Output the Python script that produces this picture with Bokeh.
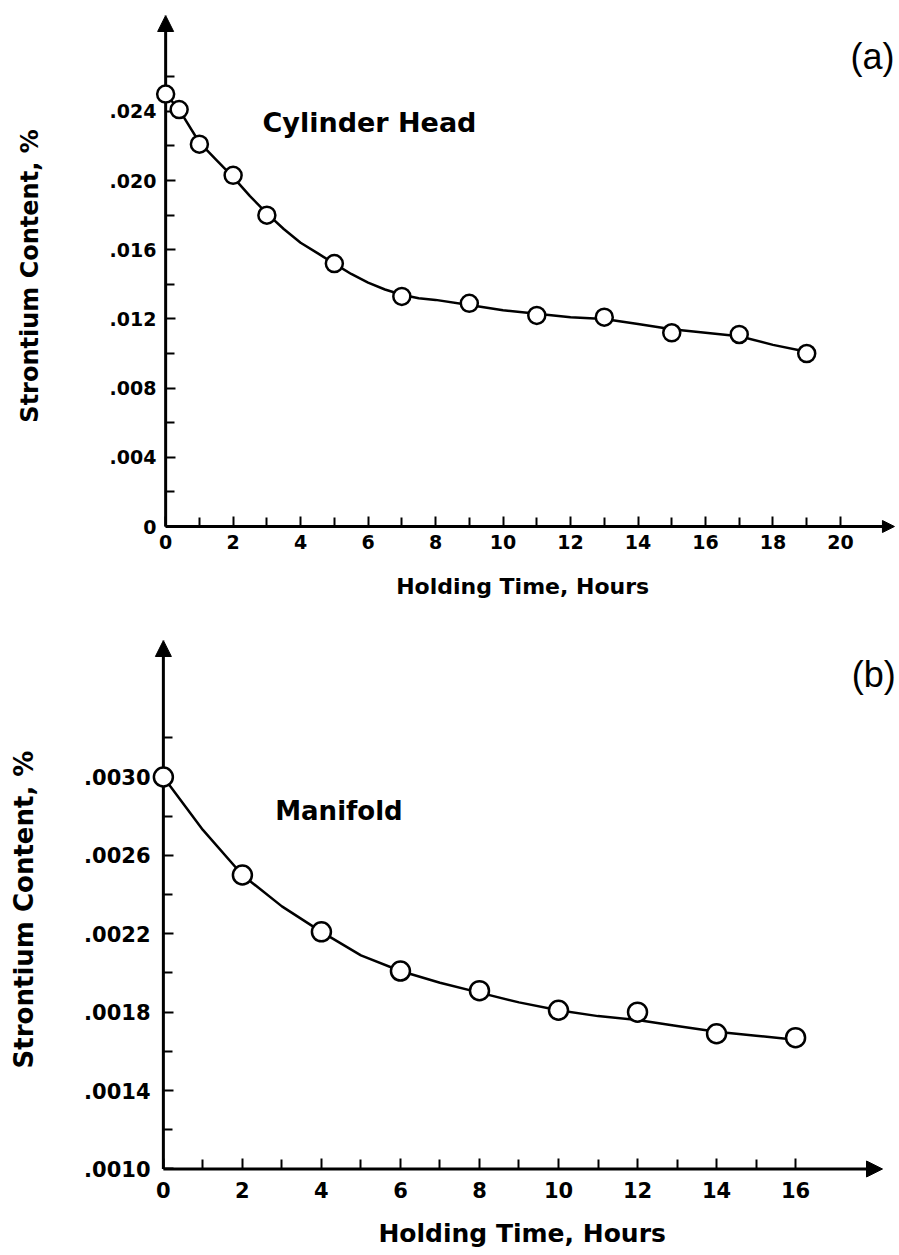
from bokeh.plotting import figure
from bokeh.layouts import column
from bokeh.models import (FixedTicker, Arrow, NormalHead, Label, Range1d,
                          CustomJSTickFormatter, LinearAxis)
from bokeh.embed import file_html
from bokeh.resources import INLINE

# ---------------- data: (a) Cylinder Head ----------------
hours_a = [0, 0.4, 1, 2, 3, 5, 7, 9, 11, 13, 15, 17, 19]
sr_a = [0.0250, 0.0241, 0.0221, 0.0203, 0.0180, 0.0152, 0.0133,
        0.0129, 0.0122, 0.0121, 0.0112, 0.0111, 0.0100]
curve_hours_a = [0, 0.4, 1, 1.5, 2, 2.5, 3, 3.5, 4, 4.5, 5, 5.5, 6, 6.5,
                 7, 7.5, 8, 9, 10, 11, 12, 13, 14, 15, 16, 17, 18, 19]
curve_sr_a = [0.0250, 0.0241, 0.0222, 0.0212, 0.0202, 0.0191, 0.0181,
              0.0172, 0.0164, 0.0158, 0.0152, 0.0146, 0.0141, 0.0137,
              0.0134, 0.0132, 0.0131, 0.0128, 0.0125, 0.0123, 0.0121,
              0.0120, 0.0117, 0.0114, 0.0112, 0.0110, 0.0105, 0.0101]
xticks_a = [0, 2, 4, 6, 8, 10, 12, 14, 16, 18, 20]
xtick_labels_a = ["0", "2", "4", "6", "8", "10", "12", "14", "16", "18", "20"]
xminor_a = [1, 3, 5, 7, 9, 11, 13, 15, 17, 19]
yticks_a = [0, 0.004, 0.008, 0.012, 0.016, 0.020, 0.024]
ytick_labels_a = ["0", ".004", ".008", ".012", ".016", ".020", ".024"]
yminor_a = [0.002, 0.006, 0.010, 0.014, 0.018, 0.022, 0.026]

# ---------------- data: (b) Manifold ----------------
hours_b = [0, 2, 4, 6, 8, 10, 12, 14, 16]
sr_b = [0.00300, 0.00250, 0.00221, 0.00201, 0.00191, 0.00181,
        0.00180, 0.00169, 0.00167]
curve_hours_b = [0, 1, 2, 3, 4, 5, 6, 7, 8, 9, 10, 11, 12, 13, 14, 15, 16]
curve_sr_b = [0.00300, 0.00273, 0.00250, 0.00234, 0.00221, 0.00209,
              0.00201, 0.00195, 0.00190, 0.00185, 0.00181, 0.00178,
              0.00176, 0.00173, 0.00170, 0.00168, 0.00166]
xticks_b = [0, 2, 4, 6, 8, 10, 12, 14, 16]
xtick_labels_b = ["0", "2", "4", "6", "8", "10", "12", "14", "16"]
xminor_b = [1, 3, 5, 7, 9, 11, 13, 15]
yticks_b = [0.0010, 0.0014, 0.0018, 0.0022, 0.0026, 0.0030]
ytick_labels_b = [".0010", ".0014", ".0018", ".0022", ".0026", ".0030"]
yminor_b = [0.0012, 0.0016, 0.0020, 0.0024, 0.0028, 0.0032]

x_title = "Holding Time,  Hours"
y_title = "Strontium Content, %"

FONT = "DejaVu Sans"
JS = ("const i = tv.findIndex(t => Math.abs(t - tick) < 1e-9);"
      "return i >= 0 ? tl[i] : '';")


def fmt(tick_values, tick_labels):
    return CustomJSTickFormatter(args=dict(tv=tick_values, tl=tick_labels), code=JS)


def tick_axis(loc, ticks, minor):
    # axis drawn at the data origin: tick marks only
    return LinearAxis(fixed_location=loc,
                      ticker=FixedTicker(ticks=ticks, minor_ticks=minor),
                      axis_line_color=None, major_label_text_color=None,
                      major_tick_in=10, major_tick_out=0,
                      minor_tick_in=9, minor_tick_out=0,
                      major_tick_line_width=2, minor_tick_line_width=2,
                      major_tick_line_color="black",
                      minor_tick_line_color="black")


def make_plot(height, xr, yr, borders, origin, x_end, head_x, y_end,
              xt, xl, xm, yt, yl, ym,
              tick_font, xtitle_font, ytitle_font, x_standoff, y_standoff,
              xtitle_standoff, ytitle_standoff):
    left, right, top, bottom = borders
    x0, y0 = origin
    p = figure(width=899, height=height, x_range=Range1d(*xr),
               y_range=Range1d(*yr), output_backend="svg",
               toolbar_location=None, min_border_left=left,
               min_border_right=right, min_border_top=top,
               min_border_bottom=bottom)
    p.outline_line_color = None
    p.grid.visible = False
    p.background_fill_color = "white"
    p.border_fill_color = "white"

    # label axes (at the frame edges): labels and titles only
    p.xaxis.ticker = FixedTicker(ticks=xt)
    p.xaxis.formatter = fmt(xt, xl)
    p.yaxis.ticker = FixedTicker(ticks=yt)
    p.yaxis.formatter = fmt(yt, yl)
    for ax in (p.xaxis, p.yaxis):
        ax.axis_line_color = None
        ax.major_tick_line_color = None
        ax.minor_tick_line_color = None
        ax.major_tick_in = 0
        ax.major_tick_out = 0
        ax.minor_tick_in = 0
        ax.minor_tick_out = 0
        ax.major_label_text_font = FONT
        ax.major_label_text_font_style = "bold"
        ax.major_label_text_font_size = tick_font
        ax.major_label_text_color = "black"
        ax.axis_label_text_font = FONT
        ax.axis_label_text_font_style = "bold"
        ax.axis_label_text_color = "black"
    p.xaxis.major_label_standoff = x_standoff
    p.yaxis.major_label_standoff = y_standoff
    p.xaxis.axis_label = x_title
    p.yaxis.axis_label = y_title
    p.xaxis.axis_label_text_font_size = xtitle_font
    p.yaxis.axis_label_text_font_size = ytitle_font
    p.xaxis.axis_label_standoff = xtitle_standoff
    p.yaxis.axis_label_standoff = ytitle_standoff

    # tick marks at the data origin
    p.add_layout(tick_axis(y0, xt, xm), "below")
    p.add_layout(tick_axis(x0, yt, ym), "left")

    # axis lines with arrow heads
    p.add_layout(Arrow(end=NormalHead(size=16, fill_color="black", line_color="black"),
                       x_start=x0, y_start=y0, x_end=x0, y_end=y_end,
                       line_width=3, line_color="black"))
    p.add_layout(Arrow(end=NormalHead(size=head_x, fill_color="black", line_color="black"),
                       x_start=x0, y_start=y0, x_end=x_end, y_end=y0,
                       line_width=3, line_color="black"))
    return p


# ---------------- (a) ----------------
pa = make_plot(612, (-0.36, 21.75), (-0.000578, 0.02954), (153, 0, 15, 76),
               (0, 0), 21.6, 12, 0.02954,
               xticks_a, xtick_labels_a, xminor_a,
               yticks_a, ytick_labels_a, yminor_a,
               "19px", "22px", "24px", -2, -3, 22, 63)
pa.line(curve_hours_a, curve_sr_a, line_color="black", line_width=2.5)
pa.scatter(hours_a, sr_a, size=17, marker="circle", fill_color="white",
           line_color="black", line_width=2.5, level="overlay")
pa.add_layout(Label(x=2.87, y=0.02335, text="Cylinder Head", text_font=FONT,
                    text_font_style="bold", text_font_size="27px",
                    text_baseline="middle", text_align="left", text_color="black"))
pa.add_layout(Label(x=20.95, y=0.02716, text="(a)", text_font="Liberation Sans",
                    text_font_size="36px", text_baseline="middle",
                    text_align="center", text_color="black"))

# ---------------- (b) ----------------
pb = make_plot(643, (-0.25, 18.63), (0.0009515, 0.0036964), (152, 0, 28, 77),
               (0, 0.0010), 18.2, 16, 0.0036964,
               xticks_b, xtick_labels_b, xminor_b,
               yticks_b, ytick_labels_b, yminor_b,
               "21px", "25px", "26px", 3, 3, 18, 42)
pb.line(curve_hours_b, curve_sr_b, line_color="black", line_width=2.5)
pb.scatter(hours_b, sr_b, size=19, marker="circle", fill_color="white",
           line_color="black", line_width=2.5, level="overlay")
pb.add_layout(Label(x=2.83, y=0.002829, text="Manifold", text_font=FONT,
                    text_font_style="bold", text_font_size="26px",
                    text_baseline="middle", text_align="left", text_color="black"))
pb.add_layout(Label(x=17.98, y=0.003523, text="(b)", text_font="Liberation Sans",
                    text_font_size="36px", text_baseline="middle",
                    text_align="center", text_color="black"))

layout = column(pa, pb, spacing=0)
open("out.html", "w").write(file_html(layout, INLINE))
